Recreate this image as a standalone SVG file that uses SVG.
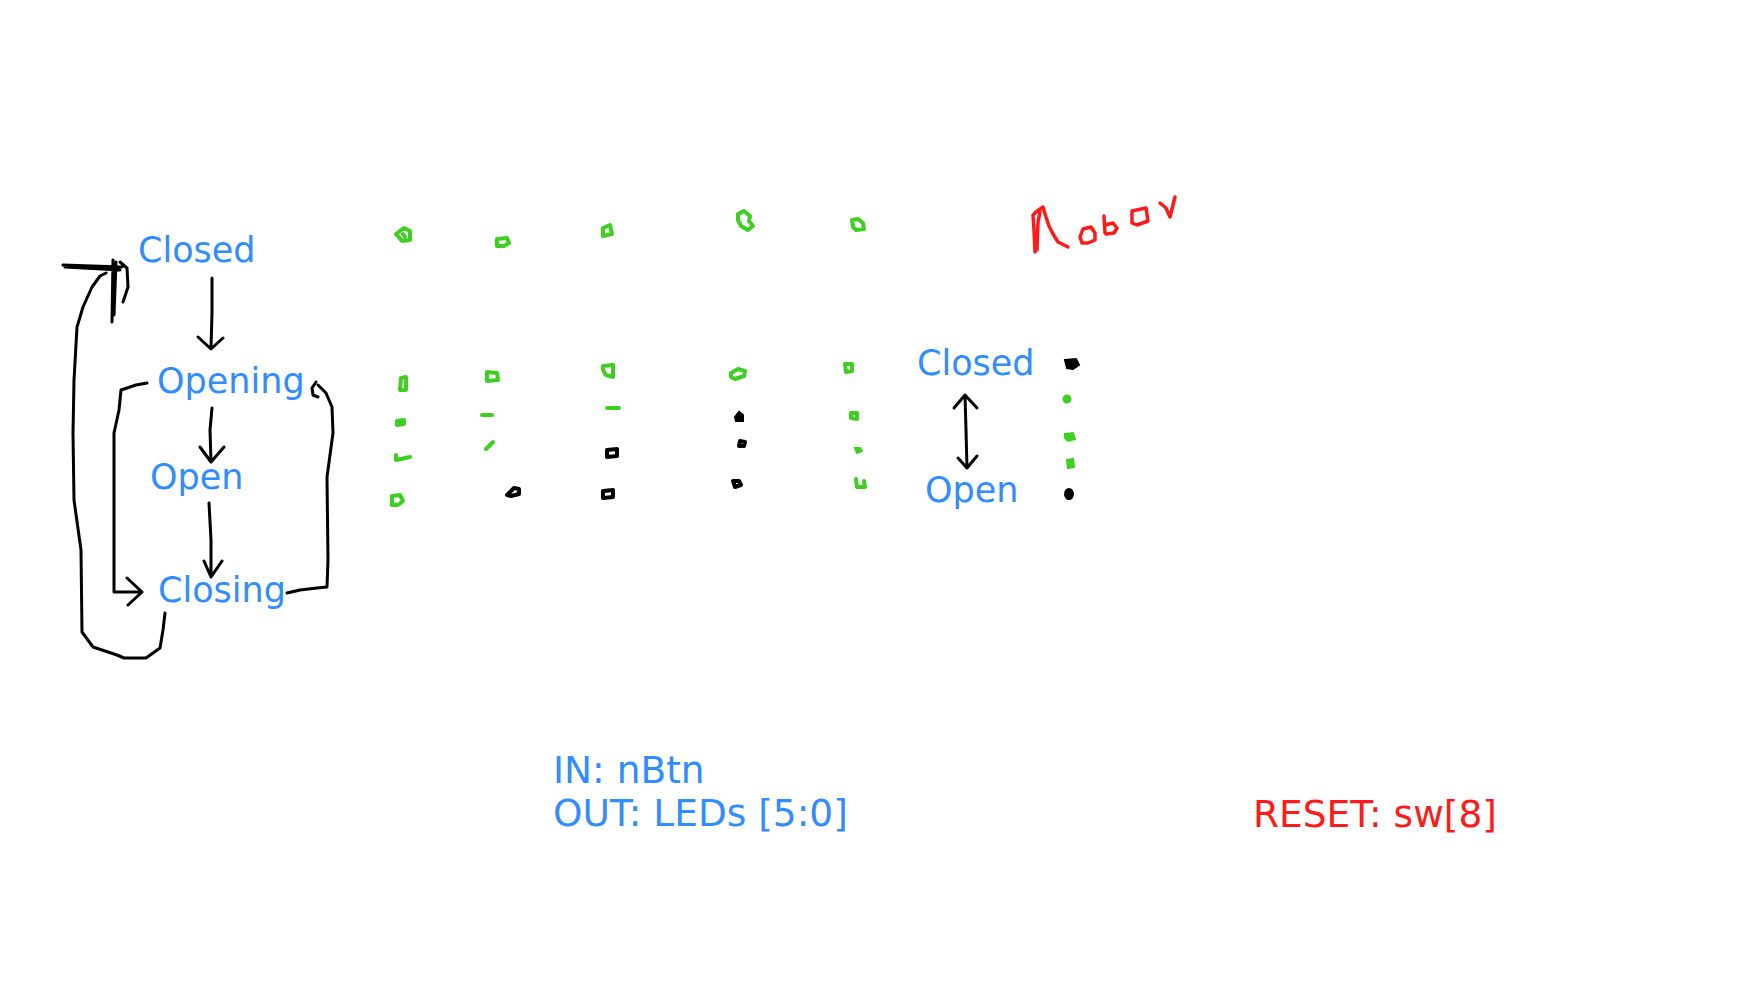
<svg xmlns="http://www.w3.org/2000/svg" width="1741" height="988" viewBox="0 0 1741 988">
<style>
.t{font-family:"DejaVu Sans","Liberation Sans",sans-serif;font-size:35px;fill:#318cff}
.big{font-size:37.5px}
.r{fill:#ff1a1a}
.k{fill:none;stroke:#000;stroke-width:3;stroke-linecap:round;stroke-linejoin:round}
.g{fill:none;stroke:#3fcf22;stroke-width:4;stroke-linecap:round;stroke-linejoin:round}
.b{fill:none;stroke:#000;stroke-width:4;stroke-linecap:round;stroke-linejoin:round}
.gf{fill:#3fcf22;stroke:#3fcf22;stroke-width:2}
.bf{fill:#000;stroke:#000;stroke-width:2}
.m{fill:none;stroke:#ff1a1a;stroke-width:3.5;stroke-linecap:round;stroke-linejoin:round}
</style>
<rect width="1741" height="988" fill="#fff"/>
<g id="node-closed"><text class="t" x="138" y="262">Closed</text></g>
<g id="node-opening"><text class="t" x="157" y="393">Opening</text></g>
<g id="node-open"><text class="t" x="150" y="489">Open</text></g>
<g id="node-closing"><text class="t" x="158" y="602">Closing</text></g>
<g id="node-closed2"><text class="t" x="917" y="375">Closed</text></g>
<g id="node-open2"><text class="t" x="925" y="502">Open</text></g>
<g id="label-io"><text class="t big" x="553" y="783">IN: nBtn</text><text class="t big" x="553" y="826">OUT: LEDs [5:0]</text></g>
<g id="label-reset"><text class="t big r" x="1253" y="827">RESET: sw[8]</text></g>
<g id="label-motor">
<path class="m" d="M1035 252 L1034 230 L1033 215 L1036 212 M1037 250 L1038 222 L1040 212 M1036 212 L1043 207 L1045 214 L1049 226 L1053 234 L1058 242 L1068 247"/>
<path class="m" d="M1083 229 L1091 227 L1095 233 L1095 240 L1088 243 L1082 243 L1080 237 Z"/>
<path class="m" d="M1104 216 L1105 233 M1105 225 L1113 223 L1117 228 L1114 233 L1106 234"/>
<path class="m" d="M1132 211 L1146 208 L1148 221 L1137 225 L1132 223 Z"/>
<path class="m" d="M1160 203 L1166 208 L1170 217 L1172 209 L1175 197"/>
</g>
<g id="connectors">
<path class="k" d="M212 278 L212 313 L211 348 M198 337 L211 349 L223 338"/>
<path class="k" d="M212 408 L210 430 L211 462 M200 447 L211 462 L224 447"/>
<path class="k" d="M209 503 L211 540 L211 577 M204 561 L211 577 L222 561"/>
<path class="k" d="M147 383 L136 385 L121 390 L119 410 L114 433 L114 592 L141 592 M127 578 L142 592 L128 605"/>
<path class="k" d="M287 593 L300 590 L317 588 L327 587 L328 560 L327 477 L330 455 L333 433 L332 407 L326 393 L318 385 M316 382 L312 388 L313 395 L318 397"/>
<path class="k" d="M165 613 L163 630 L160 648 L146 658 L124 658 L117 655 L93 647 L82 632 L81 550 L74 500 L73 433 L74 380 L77 327 L83 307 L92 287 L100 276 L106 273"/>
<path class="k" d="M63 265 L122 267 M65 267 L120 270 M113 260 L112 322 M116 262 L114 315 M120 262 L127 268 L128 287 L123 302"/>
<path class="k" d="M965 396 L966 430 L967 468 M954 408 L965 395 L977 408 M958 458 L967 468 L977 456"/>
</g>
<g id="leds">
<path class="g" d="M396 234 L404 228 L410 231 L410 240 L402 241 L398 236 Z M403 234 L405 237"/>
<path class="g" d="M497 239 L507 238 L509 243 L504 246 L497 246 Z"/>
<path class="g" d="M603 228 L610 225 L612 234 L603 236 Z"/>
<path class="g" d="M738 214 L744 211 L750 216 L749 221 L753 226 L748 230 L741 226 L738 220 Z"/>
<path class="g" d="M852 220 L858 219 L863 223 L864 229 L856 230 L853 227 Z"/>
<path class="g" d="M401 378 L406 377 L406 390 L400 390 Z"/>
<path class="g" d="M397 421 L404 420 L404 424 L397 425 Z"/>
<path class="g" d="M396 455 L396 460 L410 457"/>
<path class="g" d="M392 496 L400 495 L403 501 L398 505 L392 505 Z"/>
<path class="g" d="M487 372 L497 373 L498 380 L487 381 Z"/>
<path class="g" d="M482 415 L492 415"/>
<path class="g" d="M486 449 L493 442"/>
<path class="b" d="M507 495 L514 488 L519 489 L519 494 L511 496 Z"/>
<path class="g" d="M603 366 L613 365 L613 377 L606 375 L603 370 Z"/>
<path class="g" d="M607 408 L619 408"/>
<path class="b" d="M607 450 L617 449 L617 456 L607 457 Z"/>
<path class="b" d="M603 491 L613 490 L613 497 L603 498 Z"/>
<path class="g" d="M731 373 L738 369 L745 371 L744 376 L735 379 L731 377 Z"/>
<path class="bf" d="M735 417 L739 412 L743 415 L743 421 L736 421 Z"/>
<path class="b" d="M739 446 L740 441 L745 442 L744 446 Z"/>
<path class="b" d="M733 481 L739 481 L741 485 L735 487 Z"/>
<path class="g" d="M845 364 L852 364 L852 371 L846 372 Z"/>
<path class="g" d="M851 413 L857 413 L857 419 L851 418 Z"/>
<path class="gf" d="M855 448 L860 448 L862 451 L857 453 Z"/>
<path class="g" d="M856 479 L857 487 L865 487 L864 481"/>
<path class="bf" d="M1065 360 L1076 359 L1079 365 L1073 369 L1067 368 Z"/>
<circle class="gf" cx="1067" cy="399" r="3.5"/>
<path class="gf" d="M1065 434 L1073 433 L1075 439 L1068 441 L1065 438 Z"/>
<path class="gf" d="M1067 460 L1073 459 L1074 467 L1068 468 Z"/>
<ellipse class="bf" cx="1069" cy="494" rx="4" ry="5"/>
</g>
</svg>
